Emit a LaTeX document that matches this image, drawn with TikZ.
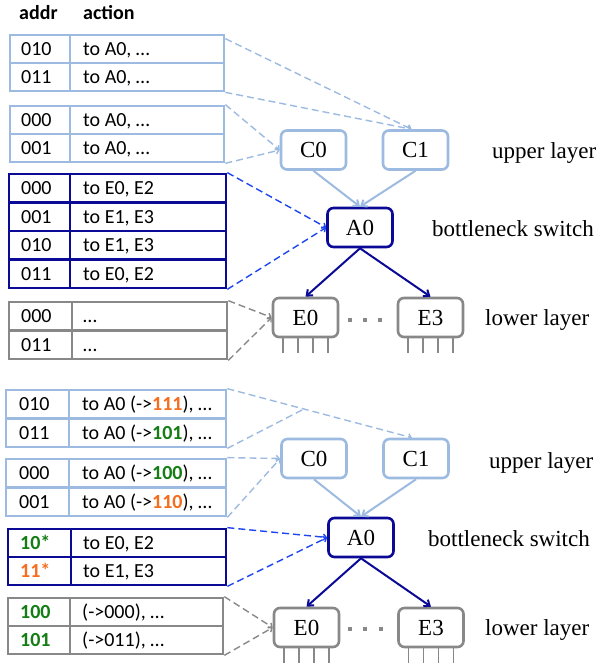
\documentclass[tikz,border=0pt]{standalone}
\usepackage{fontspec}
\setmainfont{Liberation Serif}
\newfontfamily\carl{Carlito}
\usetikzlibrary{arrows.meta}
\definecolor{lblue}{RGB}{157,187,225}
\definecolor{navy}{RGB}{10,10,150}
\definecolor{dblue}{RGB}{30,70,240}
\definecolor{grey1}{RGB}{136,136,136}
\definecolor{grn}{RGB}{20,125,20}
\definecolor{org}{RGB}{245,110,30}
\tikzset{
 swbox/.style={draw, rounded corners=6pt, line width=2.6pt, minimum width=65pt, minimum height=39pt, inner sep=0pt, fill=white, font=\fontsize{23}{23}\selectfont, text height=15.2pt, text depth=0pt},
 cbox/.style={swbox, draw=lblue},
 abox/.style={swbox, draw=navy},
 ebox/.style={swbox, draw=grey1},
 cell/.style={anchor=west, inner sep=0pt, font=\carl\fontsize{20}{21}\selectfont, text height=12.6pt, text depth=0pt},
 hdr/.style={anchor=base west, inner sep=0pt, font=\carl\bfseries\fontsize{20}{21}\selectfont},
 lay/.style={anchor=base west, inner sep=0pt, font=\fontsize{23}{23}\selectfont},
 tline/.style={line width=2.2pt},
 tframe/.style={draw, line width=2.7pt, inner sep=0pt},
 dl/.style={dash pattern=on 7pt off 4pt, line width=1.4pt, -{Straight Barb[length=3pt,width=6pt]}},
 dlplain/.style={dash pattern=on 7pt off 4pt, line width=1.4pt},
 sl/.style={line width=2pt, -{Straight Barb[length=5pt,width=8pt]}},
 port/.style={draw=grey1, line width=1.3pt},
}
\newcommand\mktab[8]{%
 \draw[tline,#2] (#7,#4) -- (#7,#6);
 \foreach \yy in {#8} {\draw[tline,#2] (#3,\yy) -- (#5,\yy);}
 \node[tframe, draw=#2, minimum width={#5-#3}, minimum height={#6-#4}] (#1) at ({(#3+#5)/2},{(#4+#6)/2}) {};
}
\newcommand\ports[1]{%
 \foreach \dx in {-22.5,-7.5,7.5,22.5} {\draw[port] ([xshift=\dx pt]#1.south) -- ++(0,15);}
}
\begin{document}
\begin{tikzpicture}[x=1pt,y=-1pt]
\useasboundingbox (0,0) rectangle (600,665);
\fill[white] (0,0) rectangle (600,665);

% ---------------- TOP ----------------
\node[hdr] (h1) at (19,19) {addr};
\node[hdr] (h2) at (83,19) {action};

\mktab{T1}{lblue}{10}{35}{224}{91}{70}{63}
\mktab{T2}{lblue}{10}{106}{224}{162}{70}{134}
\mktab{T3}{navy}{9}{174}{226}{288}{70}{202.5,231,259.5}
\mktab{T4}{grey1}{9}{302}{227}{359}{72}{330.5}

\node[cell] (t1a) at (21,49) {010};
\node[cell] (t1b) at (83,49) {to A0, …};
\node[cell] (t1c) at (21,77) {011};
\node[cell] (t1d) at (83,77) {to A0, …};
\node[cell] (t2a) at (21,120) {000};
\node[cell] (t2b) at (83,120) {to A0, …};
\node[cell] (t2c) at (21,148) {001};
\node[cell] (t2d) at (83,148) {to A0, …};
\node[cell] (t3a) at (21,188.25) {000};
\node[cell] (t3b) at (83,188.25) {to E0, E2};
\node[cell] (t3c) at (21,216.75) {001};
\node[cell] (t3d) at (83,216.75) {to E1, E3};
\node[cell] (t3e) at (21,245.25) {010};
\node[cell] (t3f) at (83,245.25) {to E1, E3};
\node[cell] (t3g) at (21,273.75) {011};
\node[cell] (t3h) at (83,273.75) {to E0, E2};
\node[cell] (t4a) at (21,316) {000};
\node[cell] (t4b) at (83,316) {…};
\node[cell] (t4c) at (21,345) {011};
\node[cell] (t4d) at (83,345) {…};

\node[cbox] (C0) at (313.5,150) {C0};
\node[cbox] (C1) at (415.5,150) {C1};
\node[abox] (A0) at (360,227.5) {A0};
\node[ebox] (E0) at (305.5,317.5) {E0};
\node[ebox] (E3) at (430.5,317.5) {E3};
\ports{E0}
\ports{E3}
\foreach \xx in {350,365,380} {\fill[grey1] (\xx-1.6,318.4) rectangle (\xx+1.6,321.6);}

\node[lay] (L1) at (492,158) {upper layer};
\node[lay] (L2) at (432,236) {bottleneck switch};
\node[lay] (L3) at (485,325) {lower layer};

\draw[dl,lblue] ([yshift=-5pt]T1.north east) -- ([xshift=-4pt]C1.north);
\draw[dl,lblue] (T1.south east) -- ([xshift=-4pt]C1.north);
\draw[dl,lblue] (T2.north east) -- (C0.west);
\draw[dl,lblue] (T2.south east) -- (C0.west);
\draw[dl,dblue] (T3.north east) -- (A0.west);
\draw[dl,dblue] (T3.south east) -- (A0.west);
\draw[dl,grey1] (T4.north east) -- (E0.west);
\draw[dl,grey1] (T4.south east) -- (E0.west);

\draw[sl,lblue] (C0.south) -- (A0.north);
\draw[sl,lblue] (C1.south) -- (A0.north);
\draw[sl,navy] (A0.south) -- (E0.north);
\draw[sl,navy] (A0.south) -- (E3.north);

% ---------------- BOTTOM ----------------
\mktab{B1}{lblue}{6}{390}{226}{447}{69}{418.5}
\mktab{B2}{lblue}{6}{459}{226}{516}{69}{487.5}
\mktab{B3}{navy}{8}{529}{226}{585}{71}{557}
\mktab{B4}{grey1}{8}{598}{223}{654}{70}{626}

\node[cell] (b1a) at (19,404) {010};
\node[cell] (b1b) at (82,404) {to A0 (->{\bfseries\color{org}111}), …};
\node[cell] (b1c) at (19,433) {011};
\node[cell] (b1d) at (82,433) {to A0 (->{\bfseries\color{grn}101}), …};
\node[cell] (b2a) at (19,473) {000};
\node[cell] (b2b) at (82,473) {to A0 (->{\bfseries\color{grn}100}), …};
\node[cell] (b2c) at (19,502) {001};
\node[cell] (b2d) at (82,502) {to A0 (->{\bfseries\color{org}110}), …};
\node[cell] (b3a) at (20,543) {\bfseries\color{grn}10*};
\node[cell] (b3b) at (83,543) {to E0, E2};
\node[cell] (b3c) at (20,571) {\bfseries\color{org}11*};
\node[cell] (b3d) at (83,571) {to E1, E3};
\node[cell] (b4a) at (20,612) {\bfseries\color{grn}100};
\node[cell] (b4b) at (82,612) {(->000), …};
\node[cell] (b4c) at (20,640) {\bfseries\color{grn}101};
\node[cell] (b4d) at (82,640) {(->011), …};

\node[cbox] (C0b) at (314,458.5) {C0};
\node[cbox] (C1b) at (416,458.5) {C1};
\node[abox] (A0b) at (361,537.5) {A0};
\node[ebox] (E0b) at (306.5,627.5) {E0};
\node[ebox] (E3b) at (431,627.5) {E3};
\ports{E0b}
\ports{E3b}
\foreach \xx in {350,365,381} {\fill[grey1] (\xx-1.6,627.4) rectangle (\xx+1.6,630.6);}

\node[lay] (L4) at (489,468) {upper layer};
\node[lay] (L5) at (428,546) {bottleneck switch};
\node[lay] (L6) at (485,635) {lower layer};

\coordinate (m) at (303,409.5);
\draw[dl,lblue] (B1.north east) -- ([xshift=-4pt]C1b.north);
\draw[dlplain,lblue] (B1.south east) -- (m);
\draw[dl,lblue] (B2.north east) -- (C0b.west);
\draw[dl,lblue] (B2.south east) -- (C0b.west);
\draw[dl,dblue] (B3.north east) -- (A0b.west);
\draw[dl,dblue] (B3.south east) -- (A0b.west);
\draw[dl,grey1] (B4.north east) -- (E0b.west);
\draw[dl,grey1] (B4.south east) -- (E0b.west);

\draw[sl,lblue] (C0b.south) -- (A0b.north);
\draw[sl,lblue] (C1b.south) -- (A0b.north);
\draw[sl,navy] (A0b.south) -- (E0b.north);
\draw[sl,navy] (A0b.south) -- (E3b.north);
\end{tikzpicture}
\end{document}
